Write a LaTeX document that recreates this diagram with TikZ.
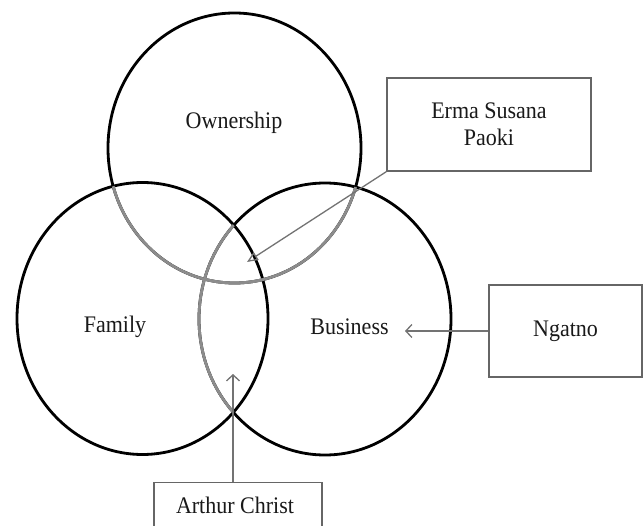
\documentclass[tikz,border=0pt]{standalone}
\usepackage{fontspec}
\setmainfont{Liberation Serif}
\usetikzlibrary{arrows.meta}
\newcommand\vstr[1]{\scalebox{1}[1.08]{#1}}
\begin{document}
\begin{tikzpicture}[x=1pt,y=-1pt,
  ring/.style={draw=black,line width=2.8pt},
  greyring/.style={draw=black!45,line width=2.8pt},
  lbl/.style={text=black!90,font=\fontsize{22}{27}\selectfont,inner sep=0pt},
  box/.style={draw=black!60,line width=1.3pt,fill=white,inner sep=0pt,
    text=black!90,font=\fontsize{22}{27}\selectfont,align=center},
  tri/.style={draw=black!55,line width=1.3pt,-{Triangle[open,length=11pt,width=9pt]}},
  barb/.style={draw=black!55,line width=1.3pt,-{Straight Barb[length=6pt,width=13pt]}}]
\clip (0,0) rectangle (644,526);
\fill[white] (0,0) rectangle (644,526);
\def\own{(234.5,148) ellipse [x radius=126.5,y radius=135]}
\def\bus{(325,319) ellipse [x radius=126,y radius=136]}
\def\fam{(142.5,318.5) ellipse [x radius=125.5,y radius=136]}
% circles
\draw[ring] \own;
\draw[ring] \bus;
\draw[ring] \fam;
% grey parts inside the other circles
\begin{scope}
  \clip \fam;
  \draw[greyring] \own;
  \draw[greyring] \bus;
\end{scope}
\begin{scope}
  \clip \bus;
  \draw[greyring] \own;
\end{scope}
% labels
\node[lbl] (own) at (234,122.5) {\vstr{Ownership}};
\node[lbl] (fam) at (115,327) {\vstr{Family}};
\node[lbl] (bus) at (349.5,327) {\vstr{Business}};
% boxes
\node[box,minimum width=204pt,minimum height=93pt] (erma) at (489,124.5)
  {\vstr{Erma Susana}\\\vstr{Paoki}};
\node[box,minimum width=153pt,minimum height=92pt] (ngat) at (565.5,331) {\vstr{Ngatno}};
\node[box,minimum width=168pt,minimum height=70pt,anchor=north] (arth) at (238,482) {};
\node[lbl] (arthtxt) at (235,505) {\vstr{Arthur Christ}};
% arrows
\coordinate (tipE) at (247,262);
\coordinate (tipN) at (405,331);
\coordinate (tipA) at (233,374);
\draw[tri] (erma.south west) -- (tipE);
\draw[barb] (ngat.west) -- (tipN);
\draw[barb] (arth.north -| tipA) -- (tipA);
\end{tikzpicture}
\end{document}
